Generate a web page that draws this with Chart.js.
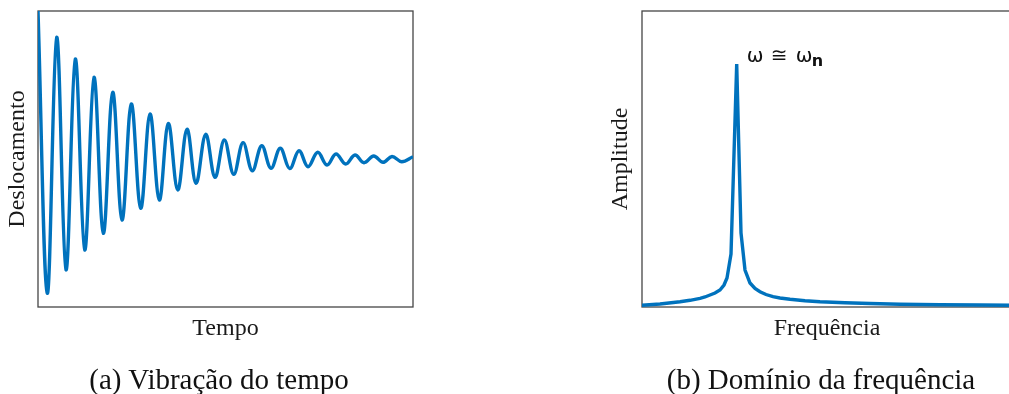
<!DOCTYPE html>
<html>
<head>
<meta charset="utf-8">
<script src="https://cdn.jsdelivr.net/npm/chart.js@4.4.0/dist/chart.umd.min.js"></script>
<style>
html,body{margin:0;padding:0;background:#fff;overflow:hidden;width:1009px;height:394px;position:relative;}
.cap{position:absolute;font-family:"Liberation Serif",serif;font-size:29px;line-height:29px;color:#111;text-align:center;white-space:nowrap;}
</style>
</head>
<body>
<canvas id="c1" width="430" height="394" style="position:absolute;left:0;top:0"></canvas>
<canvas id="c2" width="440" height="394" style="position:absolute;left:590px;top:0"></canvas>
<div class="cap" style="left:19px;width:400px;top:365px">(a) Vibração do tempo</div>
<div class="cap" style="left:621px;width:400px;top:365px">(b) Domínio da frequência</div>
<script>
// ---- Data: (a) displacement vs time (extrema) ----
const tempo = [0, 9.3, 18.7, 28, 37.3, 46.7, 56, 65.3, 74.7, 84,
  93.3, 102.7, 112, 121.3, 130.3, 139.7, 149, 158, 167.7, 177,
  186.3, 195.7, 205, 214.3, 223.7, 233, 242.3, 251.7, 261, 270,
  279.7, 289, 298, 307.7, 317, 326, 335.7, 345, 354, 363.7, 375];
const deslocamento = [148, -134.3, 121.7, -111, 100, -91, 81.7, -74.3, 66.7, -61,
  55, -49.3, 45, -41, 35.5, -31, 29.7, -24.3, 24.7, -18.3,
  19, -15.3, 16.3, -11.7, 13.3, -9.3, 10.7, -9.5, 8.3, -7.7,
  6.7, -6, 5, -5, 4, -3.7, 3, -3.3, 2.5, -2.7, 2.3];

// ---- Data: (b) amplitude vs frequency ----
const frequencia = [0, 18, 38, 48, 58, 63, 68, 73, 78, 82, 85, 89, 94.7,
  99, 103, 108, 113, 118, 124, 131, 138, 148, 163, 178, 203, 228, 258, 298, 338, 370];
const amplitude = [1.7, 3, 5.3, 6.7, 8.7, 10, 12, 14, 17, 22, 29, 53, 243,
  74, 37, 24, 18.5, 15.3, 12.5, 10.3, 9, 7.7, 6.3, 5.3, 4.2, 3.5, 2.8, 2.3, 2, 1.7];

const annotationText = ['ω', '≅', 'ω', 'n'];
const peakIndex = amplitude.indexOf(Math.max(...amplitude));

const BLUE = '#0072BD';
const SERIF = '"Liberation Serif", "Times New Roman", serif';

const boxPlugin = {
  id: 'box',
  beforeDatasetsDraw(chart) {
    const {ctx, chartArea: a} = chart;
    ctx.save();
    ctx.strokeStyle = '#454545';
    ctx.lineWidth = 1.3;
    ctx.strokeRect(a.left, a.top, a.right - a.left, a.bottom - a.top);
    ctx.restore();
  }
};

const annotPlugin = {
  id: 'annot',
  afterDatasetsDraw(chart) {
    const pt = chart.getDatasetMeta(0).data[peakIndex];
    const ctx = chart.ctx;
    ctx.save();
    ctx.fillStyle = '#111';
    ctx.textBaseline = 'alphabetic';
    ctx.font = '20px "DejaVu Sans", sans-serif';
    ctx.fillText(annotationText[0], pt.x + 10, pt.y - 2.5);
    ctx.fillText(annotationText[1], pt.x + 34, pt.y - 2.5);
    ctx.fillText(annotationText[2], pt.x + 59, pt.y - 2.5);
    ctx.font = 'bold 16px "DejaVu Sans", sans-serif';
    ctx.fillText(annotationText[3], pt.x + 75, pt.y + 2);
    ctx.restore();
  }
};

function axisTitle(text, padding) {
  return {display: true, text: text, color: '#1a1a1a',
    font: {family: SERIF, size: 24, lineHeight: 1.2, weight: 'normal'},
    padding: padding};
}
function hiddenAxis(extra) {
  return Object.assign({
    ticks: {display: false},
    grid: {display: false, drawTicks: false, tickLength: 0},
    border: {display: false}
  }, extra);
}

new Chart(document.getElementById('c1'), {
  type: 'line',
  data: {
    datasets: [{
      data: tempo.map((t, i) => ({x: t, y: deslocamento[i]})),
      borderColor: BLUE, borderWidth: 3.4, pointRadius: 0,
      tension: 0.38, fill: false
    }]
  },
  options: {
    responsive: false, animation: false, events: [],
    layout: {padding: {left: 3.6, top: 11, right: 17, bottom: 50.6}},
    plugins: {legend: {display: false}, tooltip: {enabled: false}},
    scales: {
      x: hiddenAxis({type: 'linear', min: 0, max: 375,
        title: axisTitle('Tempo', {top: 7.6, bottom: 0})}),
      y: hiddenAxis({type: 'linear', min: -148, max: 148,
        title: axisTitle('Deslocamento', {top: 0, bottom: 5.6})})
    }
  },
  plugins: [boxPlugin]
});

new Chart(document.getElementById('c2'), {
  type: 'line',
  data: {
    datasets: [{
      data: frequencia.map((f, i) => ({x: f, y: amplitude[i]})),
      borderColor: BLUE, borderWidth: 3.4, pointRadius: 0,
      tension: 0, fill: false
    }]
  },
  options: {
    responsive: false, animation: false, events: [],
    layout: {padding: {left: 16.6, top: 11, right: 18, bottom: 50.6}},
    plugins: {legend: {display: false}, tooltip: {enabled: false}},
    scales: {
      x: hiddenAxis({type: 'linear', min: 0, max: 370,
        title: axisTitle('Frequência', {top: 7.6, bottom: 0})}),
      y: hiddenAxis({type: 'linear', min: 0, max: 296,
        title: axisTitle('Amplitude', {top: 0, bottom: 6.6})})
    }
  },
  plugins: [boxPlugin, annotPlugin]
});
</script>
</body>
</html>
